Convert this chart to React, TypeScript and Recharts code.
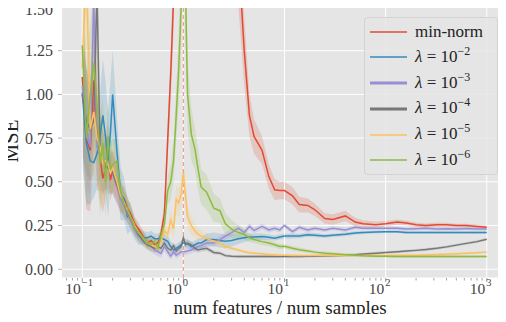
import React from "react";
import {
  ComposedChart, Line, Area, XAxis, YAxis, CartesianGrid, ReferenceLine, Legend,
} from "recharts";

// num features / num samples
const ratio = [
  0.1, 0.11, 0.12, 0.13, 0.14, 0.15, 0.16, 0.17, 0.18, 0.19,
  0.2, 0.22, 0.24, 0.26, 0.28, 0.3, 0.33, 0.36, 0.4, 0.44,
  0.48, 0.52, 0.56, 0.6, 0.65, 0.7, 0.75, 0.8, 0.85, 0.9,
  0.95, 1.0, 1.05, 1.1, 1.2, 1.3, 1.4, 1.5, 1.7, 2,
  2.3, 2.6, 3, 3.5, 4, 4.5, 5, 6, 7, 8,
  9, 10, 12, 14, 17, 20, 25, 30, 40, 50,
  60, 80, 100, 130, 160, 200, 250, 320, 400, 500,
  630, 800, 1000,
];

const minNorm = [
  1.1, 0.74, 0.68, 1.08, 0.8, 0.64, 0.52, 0.57, 0.7, 0.51,
  0.57, 0.5, 0.4, 0.4, 0.35, 0.32, 0.26, 0.23, 0.19, 0.15,
  0.165, 0.14, 0.15, 0.2, 0.32, 0.74, 1.12, 1.55, 3.0, 6.0,
  15, 40, 30, 20, 12, 9, 7, 6, 4.5, 3.5,
  3.0, 2.6, 2.2, 1.8, 1.25, 0.88, 0.76, 0.68, 0.53, 0.455,
  0.45, 0.45, 0.42, 0.37, 0.365, 0.34, 0.29, 0.285, 0.305, 0.27,
  0.26, 0.255, 0.26, 0.27, 0.265, 0.255, 0.25, 0.255, 0.255, 0.25,
  0.25, 0.245, 0.24,
];
const lam2 = [
  1.01, 0.72, 0.62, 0.61, 0.66, 0.76, 0.88, 0.76, 0.6, 0.78,
  1.0, 0.68, 0.43, 0.4, 0.3, 0.3, 0.23, 0.19, 0.18, 0.18,
  0.19, 0.175, 0.175, 0.18, 0.17, 0.16, 0.13, 0.11, 0.12, 0.13,
  0.14, 0.15, 0.15, 0.145, 0.13, 0.14, 0.15, 0.15, 0.17, 0.17,
  0.165, 0.16, 0.165, 0.175, 0.18, 0.185, 0.185, 0.187, 0.183, 0.178,
  0.185, 0.19, 0.19, 0.19, 0.198, 0.195, 0.19, 0.195, 0.2, 0.207,
  0.21, 0.213, 0.215, 0.215, 0.21, 0.21, 0.21, 0.21, 0.21, 0.21,
  0.21, 0.21, 0.21,
];
const lam3 = [
  1.05, 0.8, 0.7, 1.55, 0.7, 0.65, 0.62, 0.6, 0.62, 0.55,
  0.55, 0.47, 0.4, 0.36, 0.32, 0.28, 0.23, 0.19, 0.17, 0.15,
  0.13, 0.11, 0.1, 0.09, 0.13, 0.1, 0.075, 0.1, 0.08, 0.09,
  0.1, 0.1, 0.1, 0.105, 0.11, 0.12, 0.13, 0.135, 0.15, 0.15,
  0.17, 0.19, 0.21, 0.235, 0.21, 0.245, 0.222, 0.245, 0.225, 0.235,
  0.225, 0.25, 0.215, 0.24, 0.225, 0.235, 0.225, 0.235, 0.225, 0.24,
  0.235, 0.235, 0.235, 0.235, 0.23, 0.232, 0.235, 0.23, 0.232, 0.23,
  0.233, 0.23, 0.23,
];
const lam4 = [
  1.0, 0.85, 0.8, 0.85, 1.6, 0.68, 0.6, 0.62, 0.58, 0.56,
  0.55, 0.48, 0.42, 0.37, 0.33, 0.29, 0.24, 0.2, 0.16, 0.14,
  0.13, 0.12, 0.13, 0.12, 0.15, 0.12, 0.11, 0.135, 0.105, 0.12,
  0.13, 0.18, 0.14, 0.15, 0.14, 0.12, 0.11, 0.115, 0.12, 0.096,
  0.092, 0.078, 0.074, 0.073, 0.073, 0.073, 0.073, 0.073, 0.073, 0.073,
  0.073, 0.073, 0.073, 0.073, 0.074, 0.075, 0.076, 0.077, 0.08, 0.083,
  0.087, 0.092, 0.096, 0.1, 0.104, 0.108, 0.113, 0.12, 0.128, 0.138,
  0.148, 0.158, 0.172,
];
const lam5 = [
  1.15, 1.7, 0.8, 0.9, 0.75, 0.7, 0.6, 0.62, 0.6, 0.55,
  0.58, 0.5, 0.42, 0.38, 0.34, 0.3, 0.25, 0.21, 0.18, 0.15,
  0.14, 0.13, 0.12, 0.16, 0.22, 0.2, 0.28, 0.23, 0.4, 0.38,
  0.43, 0.55, 0.42, 0.3, 0.25, 0.22, 0.2, 0.19, 0.175, 0.16,
  0.15, 0.13, 0.12, 0.11, 0.1, 0.095, 0.092, 0.088, 0.085, 0.082,
  0.08, 0.08, 0.079, 0.078, 0.078, 0.078, 0.078, 0.078, 0.078, 0.078,
  0.078, 0.078, 0.078, 0.079, 0.08, 0.08, 0.082, 0.084, 0.086, 0.088,
  0.091, 0.095, 0.098,
];
const lam6 = [
  1.28, 0.75, 1.0, 1.18, 0.95, 0.6, 0.72, 0.5, 0.76, 0.57,
  0.6, 0.62, 0.44, 0.37, 0.35, 0.3, 0.24, 0.21, 0.18, 0.15,
  0.14, 0.16, 0.12, 0.19, 0.26, 0.45, 0.5, 0.62, 0.88, 1.15,
  1.5, 2.5, 1.6, 1.0, 0.77, 0.69, 0.57, 0.47, 0.44, 0.35,
  0.335, 0.26, 0.23, 0.21, 0.2, 0.18, 0.17, 0.158, 0.15, 0.14,
  0.13, 0.132, 0.12, 0.112, 0.105, 0.098, 0.092, 0.088, 0.083, 0.08,
  0.077, 0.075, 0.074, 0.073, 0.073, 0.073, 0.073, 0.073, 0.073, 0.073,
  0.073, 0.073, 0.073,
];

// spread (half width of shaded band)
const minNormSd = [
  0.4, 0.4, 0.35, 0.35, 0.3, 0.25, 0.2, 0.15, 0.15, 0.12,
  0.12, 0.1, 0.08, 0.07, 0.06, 0.05, 0.04, 0.04, 0.03, 0.03,
  0.03, 0.03, 0.03, 0.04, 0.06, 0.1, 0.15, 0.2, 0.5, 1,
  2, 5, 4, 3, 2, 1.5, 1, 1, 0.8, 0.6,
  0.5, 0.4, 0.35, 0.3, 0.2, 0.12, 0.1, 0.08, 0.07, 0.06,
  0.05, 0.05, 0.05, 0.045, 0.04, 0.035, 0.03, 0.03, 0.03, 0.025,
  0.02, 0.018, 0.016, 0.015, 0.014, 0.013, 0.012, 0.012, 0.011, 0.01,
  0.01, 0.01, 0.01,
];
const lam2Sd = [
  0.4, 0.35, 0.25, 0.2, 0.2, 0.25, 0.32, 0.32, 0.3, 0.3,
  0.25, 0.2, 0.15, 0.12, 0.1, 0.08, 0.06, 0.05, 0.04, 0.03,
  0.03, 0.03, 0.03, 0.03, 0.03, 0.03, 0.03, 0.03, 0.025, 0.025,
  0.025, 0.025, 0.025, 0.025, 0.025, 0.025, 0.025, 0.03, 0.035, 0.04,
  0.04, 0.04, 0.035, 0.03, 0.025, 0.02, 0.02, 0.018, 0.016, 0.015,
  0.015, 0.015, 0.014, 0.013, 0.012, 0.012, 0.011, 0.01, 0.01, 0.01,
  0.009, 0.009, 0.008, 0.008, 0.008, 0.008, 0.008, 0.008, 0.008, 0.008,
  0.008, 0.008, 0.008,
];
const lam3Sd = [
  0.35, 0.3, 0.3, 0.3, 0.25, 0.2, 0.18, 0.15, 0.15, 0.12,
  0.12, 0.1, 0.08, 0.07, 0.06, 0.05, 0.04, 0.035, 0.03, 0.03,
  0.03, 0.025, 0.025, 0.025, 0.025, 0.025, 0.02, 0.02, 0.02, 0.02,
  0.02, 0.02, 0.02, 0.02, 0.02, 0.02, 0.02, 0.02, 0.02, 0.02,
  0.02, 0.02, 0.02, 0.02, 0.02, 0.018, 0.018, 0.016, 0.016, 0.015,
  0.015, 0.015, 0.014, 0.014, 0.013, 0.013, 0.012, 0.012, 0.012, 0.011,
  0.011, 0.01, 0.01, 0.01, 0.01, 0.01, 0.01, 0.01, 0.01, 0.01,
  0.01, 0.01, 0.01,
];
const lam4Sd = [
  0.35, 0.3, 0.3, 0.3, 0.25, 0.2, 0.18, 0.15, 0.15, 0.12,
  0.12, 0.1, 0.08, 0.07, 0.06, 0.05, 0.04, 0.035, 0.03, 0.03,
  0.03, 0.025, 0.025, 0.025, 0.025, 0.025, 0.02, 0.02, 0.02, 0.02,
  0.02, 0.025, 0.02, 0.02, 0.02, 0.02, 0.015, 0.015, 0.015, 0.012,
  0.01, 0.01, 0.008, 0.008, 0.008, 0.008, 0.008, 0.008, 0.008, 0.008,
  0.008, 0.008, 0.008, 0.008, 0.008, 0.008, 0.008, 0.008, 0.008, 0.008,
  0.008, 0.008, 0.008, 0.008, 0.008, 0.008, 0.008, 0.008, 0.008, 0.008,
  0.008, 0.008, 0.008,
];
const lam5Sd = [
  0.4, 0.4, 0.35, 0.35, 0.3, 0.25, 0.2, 0.15, 0.15, 0.12,
  0.12, 0.1, 0.08, 0.07, 0.06, 0.05, 0.04, 0.035, 0.03, 0.03,
  0.03, 0.03, 0.03, 0.04, 0.05, 0.05, 0.06, 0.06, 0.08, 0.08,
  0.08, 0.1, 0.08, 0.07, 0.05, 0.04, 0.035, 0.03, 0.025, 0.02,
  0.02, 0.015, 0.012, 0.01, 0.01, 0.01, 0.01, 0.008, 0.008, 0.008,
  0.008, 0.008, 0.008, 0.008, 0.008, 0.008, 0.008, 0.008, 0.008, 0.008,
  0.008, 0.008, 0.008, 0.008, 0.008, 0.008, 0.008, 0.008, 0.008, 0.008,
  0.008, 0.008, 0.008,
];
const lam6Sd = [
  0.45, 0.4, 0.4, 0.4, 0.35, 0.3, 0.25, 0.2, 0.2, 0.15,
  0.15, 0.12, 0.1, 0.08, 0.07, 0.06, 0.05, 0.04, 0.035, 0.03,
  0.03, 0.03, 0.03, 0.04, 0.06, 0.08, 0.1, 0.12, 0.15, 0.2,
  0.3, 0.5, 0.3, 0.2, 0.15, 0.12, 0.12, 0.1, 0.1, 0.08,
  0.07, 0.06, 0.05, 0.04, 0.03, 0.025, 0.02, 0.02, 0.018, 0.016,
  0.015, 0.014, 0.013, 0.012, 0.011, 0.01, 0.01, 0.01, 0.009, 0.009,
  0.008, 0.008, 0.008, 0.008, 0.008, 0.008, 0.008, 0.008, 0.008, 0.008,
  0.008, 0.008, 0.008,
];

const xMajorTicks = [0.1, 1, 10, 100, 1000];
const xMajorExponents = ["\u22121", "0", "1", "2", "3"];
const xMinorTicks = [
  0.07, 0.08, 0.09,
  0.2, 0.3, 0.4, 0.5, 0.6, 0.7, 0.8, 0.9,
  2, 3, 4, 5, 6, 7, 8, 9,
  20, 30, 40, 50, 60, 70, 80, 90,
  200, 300, 400, 500, 600, 700, 800, 900,
];
const yTicks = [0, 0.25, 0.5, 0.75, 1.0, 1.25, 1.5];
const thresholdRatio = 1;
const xTitle = "num features / num samples";
const yTitle = "MSE";

const seriesLabels = ["min-norm", "λ = 10", "λ = 10", "λ = 10", "λ = 10", "λ = 10"];
const seriesExponents = ["", "\u22122", "\u22123", "\u22124", "\u22125", "\u22126"];

const FONT = "Liberation Serif, DejaVu Serif, serif";

const series = [
  { key: "s0", vals: minNorm, sd: minNormSd, color: "#E24A33", lw: 1.5 },
  { key: "s1", vals: lam2, sd: lam2Sd, color: "#348ABD", lw: 1.5 },
  { key: "s2", vals: lam3, sd: lam3Sd, color: "#988ED5", lw: 3 },
  { key: "s3", vals: lam4, sd: lam4Sd, color: "#777777", lw: 3 },
  { key: "s4", vals: lam5, sd: lam5Sd, color: "#FBC15E", lw: 1.5 },
  { key: "s5", vals: lam6, sd: lam6Sd, color: "#8EBA42", lw: 1.5 },
];

const data = ratio.map((x, i) => {
  const row: any = { x };
  series.forEach((s) => {
    row[s.key] = s.vals[i];
    row[s.key + "b"] = [s.vals[i] - s.sd[i], s.vals[i] + s.sd[i]];
  });
  return row;
});

const allXTicks = [...xMajorTicks, ...xMinorTicks].sort((a, b) => a - b);

const XTick = (props: any) => {
  const { x, y, payload } = props;
  const v = payload.value;
  const idx = xMajorTicks.indexOf(v);
  const major = idx >= 0;
  return (
    <g>
      <line x1={x} x2={x} y1={y} y2={y + (major ? 4 : 2.5)} stroke="#8a8a8a" strokeWidth={0.8} />
      {major && (
        <g style={{ fontFamily: FONT }} fill="#444">
          <text x={x - 1.5} y={y + 15.5} textAnchor="end" fontSize={15.5}>10</text>
          <text x={x - 0.5} y={y + 8} textAnchor="start" fontSize={10.5}>{xMajorExponents[idx]}</text>
        </g>
      )}
    </g>
  );
};

const YTick = (props: any) => {
  const { x, y, payload } = props;
  return (
    <text x={x} y={y + 5.5} textAnchor="end" fontSize={16} style={{ fontFamily: FONT }} fill="#444">
      {Number(payload.value).toFixed(2)}
    </text>
  );
};

const XLabel = () => (
  <text x={280} y={313.5} textAnchor="middle" fontSize={19} style={{ fontFamily: FONT }} fill="#222">
    {xTitle}
  </text>
);

const YLabel = () => (
  <g transform="translate(18 141) rotate(-90)">
    <text x={0} y={0} textAnchor="middle" fontSize={21} style={{ fontFamily: FONT }} fill="#222">
      {yTitle}
    </text>
  </g>
);

const LegendBox = () => (
  <div
    style={{
      width: 134, height: 158, boxSizing: "border-box", border: "1px solid #d2d2d2", borderRadius: 4,
      background: "rgba(229,229,229,0.85)", fontFamily: FONT, position: "relative",
    }}
  >
    {series.map((s, i) => (
      <div key={s.key} style={{ position: "absolute", left: 0, top: 0.7 + i * 25.7, height: 26, width: 134, display: "flex", alignItems: "center" }}>
        <svg width={50} height={26} style={{ flex: "none" }}>
          <line x1={5} x2={42} y1={13} y2={13} stroke={s.color} strokeWidth={s.lw} />
        </svg>
        <span style={{ fontSize: 17, color: "#222", whiteSpace: "nowrap", lineHeight: "26px", fontFamily: FONT }}>
          {i === 0 ? seriesLabels[i] : (
            <>
              <i>λ</i>{seriesLabels[i].slice(1)}
              <span style={{ fontSize: 12, position: "relative", top: -7 }}>{seriesExponents[i]}</span>
            </>
          )}
        </span>
      </div>
    ))}
  </div>
);

export default function App() {
  return (
    <div style={{ margin: -8, width: 506, height: 322, overflow: "hidden", background: "#fff" }}>
      <ComposedChart width={507} height={322} data={data} margin={{ top: 7, right: 0, bottom: 0, left: 0 }}>
        <CartesianGrid vertical={false} stroke="#ffffff" strokeWidth={1} fill="#E5E5E5" fillOpacity={1} />
        <XAxis
          dataKey="x" type="number" scale="log" domain={[0.0631, 1585]} allowDataOverflow
          ticks={allXTicks} interval={0} height={44} axisLine={false} tickLine={false}
          tickSize={0} tickMargin={0} tick={<XTick />} label={<XLabel />}
        />
        <YAxis
          type="number" domain={[-0.05, 1.5]} allowDataOverflow ticks={yTicks} width={62}
          axisLine={false} tickSize={4} tickMargin={5} tickLine={{ stroke: "#b0b0b0" }}
          tick={<YTick />} label={<YLabel />}
        />
        {xMajorTicks.map((t) => (
          <ReferenceLine key={"g" + t} x={t} stroke="#ffffff" strokeWidth={1} ifOverflow="hidden" />
        ))}
        {series.map((s) => (
          <Area
            key={s.key + "b"} dataKey={s.key + "b"} type="linear" stroke="none" fill={s.color}
            fillOpacity={0.2} isAnimationActive={false} dot={false} activeDot={false}
          />
        ))}
        <ReferenceLine x={thresholdRatio} stroke="#E24A33" strokeOpacity={0.6} strokeWidth={1} strokeDasharray="4 3" />
        {series.map((s) => (
          <Line
            key={s.key} dataKey={s.key} type="linear" stroke={s.color} strokeWidth={1.5}
            dot={false} activeDot={false} isAnimationActive={false}
          />
        ))}
        <Legend
          content={<LegendBox />} layout="vertical" verticalAlign="middle" align="center"
          wrapperStyle={{ left: 364, top: 17, width: 134, height: 158 }}
        />
      </ComposedChart>
    </div>
  );
}
